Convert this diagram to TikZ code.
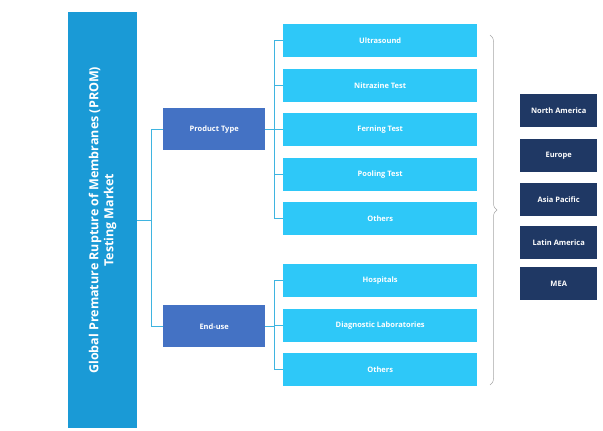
\documentclass[tikz,border=0pt]{standalone}
\usepackage{fontspec}
\setmainfont{Open Sans}
\usetikzlibrary{decorations.pathreplacing}
\definecolor{bar}{HTML}{1A9AD6}
\definecolor{mid}{HTML}{4472C4}
\definecolor{lite}{HTML}{2EC8F8}
\definecolor{navy}{HTML}{1F3864}
\definecolor{ln}{HTML}{3FB4E0}
\begin{document}
\begin{tikzpicture}[x=1pt,y=-1pt,
 box/.style={draw=none,anchor=north west,inner sep=0,text=white,font=\bfseries\fontsize{7.5}{9}\selectfont,align=center},
 cn/.style={draw=ln,line width=0.6pt}]
\useasboundingbox (0,0) rectangle (603,431);
\node[box,fill=bar,minimum width=69,minimum height=416,font=\bfseries\fontsize{12.5}{15}\selectfont] (bar) at (68,12) {\rotatebox{90}{\parbox{400pt}{\centering Global Premature Rupture of Membranes (PROM)\\Testing Market}}};
\node[box,fill=mid,minimum width=102,minimum height=42] (pt) at (163,108) {Product Type};
\node[box,fill=mid,minimum width=102,minimum height=42] (eu) at (163,305) {End-use};
\foreach \n/\y/\t in {a/24/Ultrasound,b/69/Nitrazine Test,c/113/Ferning Test,d/158/Pooling Test,e/202/Others,f/264/Hospitals,g/309/Diagnostic Laboratories,h/353/Others}
  \node[box,fill=lite,minimum width=194,minimum height=33] (\n) at (283,\y) {\t};
\foreach \n/\y/\t in {r1/94/North America,r2/139/Europe,r3/183/Asia Pacific,r4/226/Latin America,r5/267/MEA}
  \node[box,fill=navy,minimum width=77,minimum height=33] (\n) at (520,\y) {\t};
\coordinate (j0) at (151,0);
\draw[cn] (bar.east) -- (151,0 |- bar.east);
\draw[cn] (pt.west) -| (j0 |- eu.west) -- (eu.west);
\draw[cn] (bar.east) -- (bar.east -| j0);
\coordinate (j1) at (274,0);
\draw[cn] (pt.east) -- (pt.east -| j1);
\draw[cn] (a.west) -| (j1 |- e.west) -- (e.west);
\foreach \n in {b,c,d} \draw[cn] (\n.west) -- (\n.west -| j1);
\draw[cn] (eu.east) -- (eu.east -| j1);
\draw[cn] (f.west) -| (j1 |- h.west) -- (h.west);
\draw[cn] (g.west) -- (g.west -| j1);
\coordinate (bt) at (490,35);
\coordinate (bb) at (490,385);
\draw[gray!70,line width=0.5pt,decorate,decoration={brace,amplitude=7pt}] (bt) -- (bb);
\end{tikzpicture}
\end{document}
